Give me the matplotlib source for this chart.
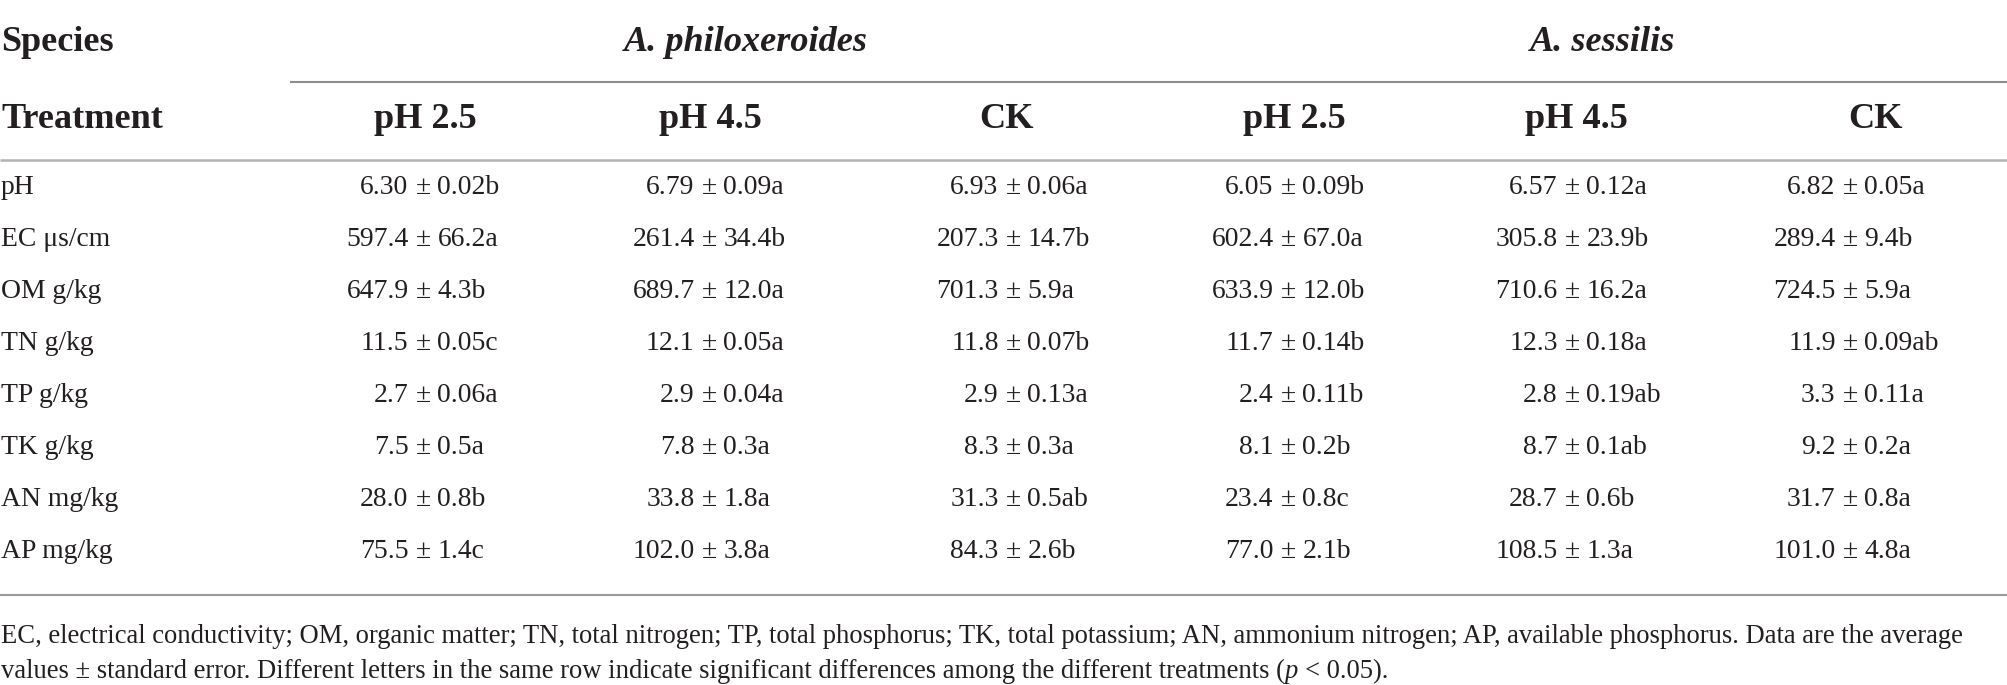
import matplotlib
matplotlib.use("Agg")
import matplotlib.pyplot as plt

# ---------------- data ----------------
species = ["A. philoxeroides", "A. sessilis"]
treatments = ["pH 2.5", "pH 4.5", "CK"]
variables = ["pH", "EC μs/cm", "OM g/kg", "TN g/kg", "TP g/kg", "TK g/kg", "AN mg/kg", "AP mg/kg"]

phil_ph25 = ["6.30 ± 0.02b", "597.4 ± 66.2a", "647.9 ± 4.3b", "11.5 ± 0.05c",
             "2.7 ± 0.06a", "7.5 ± 0.5a", "28.0 ± 0.8b", "75.5 ± 1.4c"]
phil_ph45 = ["6.79 ± 0.09a", "261.4 ± 34.4b", "689.7 ± 12.0a", "12.1 ± 0.05a",
             "2.9 ± 0.04a", "7.8 ± 0.3a", "33.8 ± 1.8a", "102.0 ± 3.8a"]
phil_ck = ["6.93 ± 0.06a", "207.3 ± 14.7b", "701.3 ± 5.9a", "11.8 ± 0.07b",
           "2.9 ± 0.13a", "8.3 ± 0.3a", "31.3 ± 0.5ab", "84.3 ± 2.6b"]
sess_ph25 = ["6.05 ± 0.09b", "602.4 ± 67.0a", "633.9 ± 12.0b", "11.7 ± 0.14b",
             "2.4 ± 0.11b", "8.1 ± 0.2b", "23.4 ± 0.8c", "77.0 ± 2.1b"]
sess_ph45 = ["6.57 ± 0.12a", "305.8 ± 23.9b", "710.6 ± 16.2a", "12.3 ± 0.18a",
             "2.8 ± 0.19ab", "8.7 ± 0.1ab", "28.7 ± 0.6b", "108.5 ± 1.3a"]
sess_ck = ["6.82 ± 0.05a", "289.4 ± 9.4b", "724.5 ± 5.9a", "11.9 ± 0.09ab",
           "3.3 ± 0.11a", "9.2 ± 0.2a", "31.7 ± 0.8a", "101.0 ± 4.8a"]

columns = [phil_ph25, phil_ph45, phil_ck, sess_ph25, sess_ph45, sess_ck]

footnote_1 = ("EC, electrical conductivity; OM, organic matter; TN, total nitrogen; TP, total phosphorus; "
              "TK, total potassium; AN, ammonium nitrogen; AP, available phosphorus. Data are the average")
footnote_2a = ("values ± standard error. Different letters in the same row indicate significant "
               "differences among the different treatments (")
footnote_2p = "p"
footnote_2b = " < 0.05)."

# ---------------- layout (pixels) ----------------
W, H, DPI = 2008, 685, 100
FONT = "Liberation Serif"
INK = "#231f20"

species_center = [746, 1603]
col_center = [425, 710, 1007, 1294, 1576, 1876]
pm_x = [423, 709, 1013, 1288, 1572, 1850]
y_species, y_treat = 51, 128
y_row0, row_step = 194, 52
y_foot1, y_foot2 = 643, 678

fig = plt.figure(figsize=(W / DPI, H / DPI), dpi=DPI)
ax = fig.add_axes([0, 0, 1, 1])
ax.set_xlim(0, W)
ax.set_ylim(H, 0)
ax.axis("off")
renderer = fig.canvas.get_renderer()


def twidth(s, size, **kw):
    t = ax.text(0, 0, s, fontsize=size, family=FONT, **kw)
    w = t.get_window_extent(renderer=renderer).width
    t.remove()
    return w


def fit(s, target, **kw):
    return 20.0 * target / twidth(s, 20.0, **kw)


fs_body = fit("6.30 ± 0.02b", 139)
fs_head = fit("Treatment", 162, weight="bold")
fs_foot = fit(footnote_1, 1966)

# ---------------- rules ----------------
ax.plot([290, W], [82, 82], color="#8e8e8e", lw=1.5, solid_capstyle="butt")
ax.plot([0, W], [160, 160], color="#b2b2b2", lw=1.8, solid_capstyle="butt")
ax.plot([0, W], [595, 595], color="#9a9a9a", lw=1.5, solid_capstyle="butt")

# ---------------- header ----------------
ax.text(1, y_species, "Species", fontsize=fs_head, family=FONT, weight="bold",
        color=INK, ha="left", va="baseline")
ax.text(1, y_treat, "Treatment", fontsize=fs_head, family=FONT, weight="bold",
        color=INK, ha="left", va="baseline")
for g, sp in enumerate(species):
    ax.text(species_center[g], y_species, sp, fontsize=fs_head, family=FONT,
            weight="bold", style="italic", color=INK, ha="center", va="baseline")
for c in range(6):
    ax.text(col_center[c], y_treat, treatments[c % 3], fontsize=fs_head, family=FONT,
            weight="bold", color=INK, ha="center", va="baseline")

# ---------------- body ----------------
gap = (twidth("0 ± 0", fs_body) - twidth("0", fs_body) * 2) / 2.0
for r, var in enumerate(variables):
    y = y_row0 + r * row_step
    ax.text(1, y, var, fontsize=fs_body, family=FONT, color=INK, ha="left", va="baseline")
    for c, col in enumerate(columns):
        left, right = [p.strip() for p in col[r].split("±")]
        ax.text(pm_x[c] - gap, y, left, fontsize=fs_body, family=FONT, color=INK,
                ha="right", va="baseline")
        ax.text(pm_x[c], y, "±", fontsize=fs_body, family=FONT, color=INK,
                ha="center", va="baseline")
        ax.text(pm_x[c] + gap, y, right, fontsize=fs_body, family=FONT, color=INK,
                ha="left", va="baseline")

# ---------------- footnote ----------------
ax.text(1, y_foot1, footnote_1, fontsize=fs_foot, family=FONT, color=INK,
        ha="left", va="baseline")
space_w = twidth("a a", fs_foot) - twidth("aa", fs_foot)
x = 1
ax.text(x, y_foot2, footnote_2a, fontsize=fs_foot, family=FONT, color=INK,
        ha="left", va="baseline")
x += twidth(footnote_2a, fs_foot)
ax.text(x, y_foot2, footnote_2p, fontsize=fs_foot, family=FONT, style="italic",
        color=INK, ha="left", va="baseline")
x += twidth(footnote_2p, fs_foot, style="italic") + space_w
ax.text(x, y_foot2, footnote_2b.strip(), fontsize=fs_foot, family=FONT, color=INK,
        ha="left", va="baseline")

fig.savefig("out.png", dpi=DPI, facecolor="white")
